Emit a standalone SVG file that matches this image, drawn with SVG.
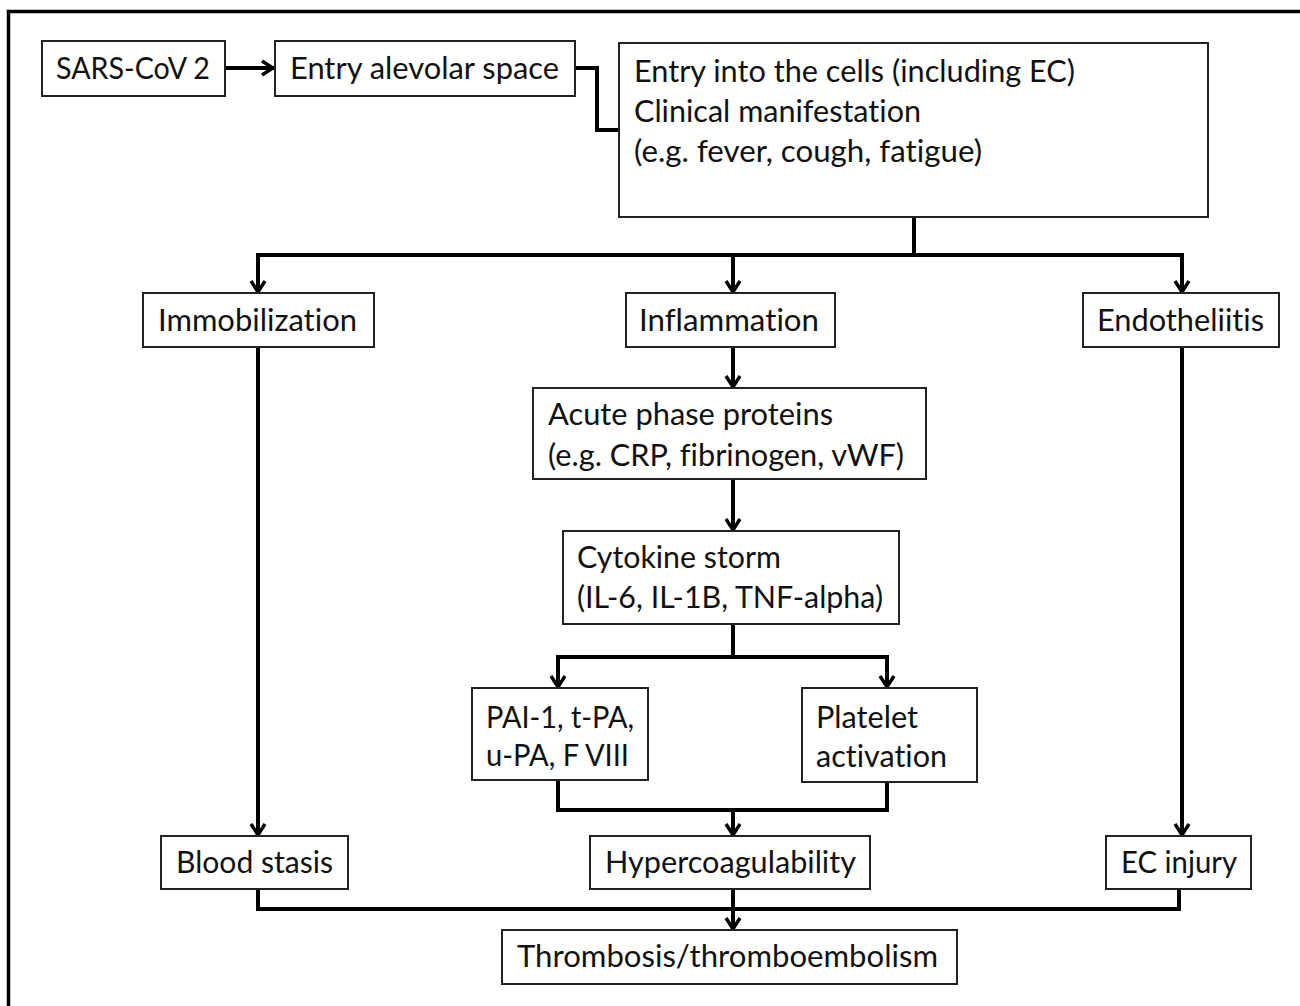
<svg xmlns="http://www.w3.org/2000/svg" width="1300" height="1006" viewBox="0 0 1300 1006">
<style>
.box{fill:#fff;stroke:#222;stroke-width:2}
.t{font-family:Lato,"Open Sans","Liberation Sans",sans-serif;font-size:31px;fill:#111;font-variant-ligatures:none;font-feature-settings:"liga" 0,"dlig" 0}
.c{fill:none;stroke:#000;stroke-width:4;stroke-linejoin:miter}
.a{fill:none;stroke:#000;stroke-width:4;marker-end:url(#arr)}
</style>
<defs>
<marker id="arr" viewBox="0 0 16 18" refX="14" refY="9" markerWidth="16" markerHeight="18" markerUnits="userSpaceOnUse" orient="auto">
<path d="M2,2 L13,9 L2,16" fill="none" stroke="#000" stroke-width="3.4"/>
</marker>
</defs>
<rect width="1300" height="1006" fill="#fff"/>
<path d="M8.5,1006 V11.5 H1300" fill="none" stroke="#000" stroke-width="3.5"/>

<g id="connectors">
<line class="a" x1="226" y1="68" x2="274" y2="68"/>
<path class="c" d="M575,68 H597 V130 H619"/>
<path class="c" d="M914,217 V255"/>
<path class="c" d="M258,291 V255 H1182 V291"/>
<line class="a" x1="258" y1="270" x2="258" y2="293"/>
<line class="a" x1="733" y1="255" x2="733" y2="293"/>
<line class="a" x1="1182" y1="270" x2="1182" y2="293"/>
<line class="a" x1="258" y1="347" x2="258" y2="836"/>
<line class="a" x1="1182" y1="347" x2="1182" y2="836"/>
<line class="a" x1="733" y1="347" x2="733" y2="388"/>
<line class="a" x1="733" y1="479" x2="733" y2="531"/>
<path class="c" d="M733,624 V657"/>
<path class="c" d="M558,686 V657 H887 V686"/>
<line class="a" x1="558" y1="670" x2="558" y2="688"/>
<line class="a" x1="887" y1="670" x2="887" y2="688"/>
<path class="c" d="M558,780 V810 H887 V782"/>
<line class="a" x1="733" y1="810" x2="733" y2="836"/>
<path class="c" d="M258,889 V909 H1179 V889"/>
<line class="a" x1="733" y1="889" x2="733" y2="930"/>
</g>

<g id="sars"><rect class="box" x="42" y="41" width="183" height="55"/><text class="t" x="56" y="79" textLength="154" lengthAdjust="spacingAndGlyphs">SARS-CoV 2</text></g>
<g id="alveolar"><rect class="box" x="275" y="41" width="300" height="55"/><text class="t" x="290" y="79" textLength="269" lengthAdjust="spacingAndGlyphs">Entry alevolar space</text></g>
<g id="entry-cells"><rect class="box" x="619" y="43" width="589" height="174"/>
<text class="t" x="634" y="82" textLength="441" lengthAdjust="spacingAndGlyphs">Entry into the cells (including EC)</text>
<text class="t" x="634" y="122" textLength="287" lengthAdjust="spacingAndGlyphs">Clinical manifestation</text>
<text class="t" x="634" y="162" textLength="348" lengthAdjust="spacingAndGlyphs">(e.g. fever, cough, fatigue)</text></g>
<g id="immobilization"><rect class="box" x="143" y="293" width="231" height="54"/><text class="t" x="158" y="331" textLength="199" lengthAdjust="spacingAndGlyphs">Immobilization</text></g>
<g id="inflammation"><rect class="box" x="626" y="293" width="209" height="54"/><text class="t" x="639" y="331" textLength="180" lengthAdjust="spacingAndGlyphs">Inflammation</text></g>
<g id="endotheliitis"><rect class="box" x="1083" y="293" width="196" height="54"/><text class="t" x="1097" y="331" textLength="167" lengthAdjust="spacingAndGlyphs">Endotheliitis</text></g>
<g id="acute-phase"><rect class="box" x="533" y="388" width="393" height="91"/>
<text class="t" x="548" y="425" textLength="285" lengthAdjust="spacingAndGlyphs">Acute phase proteins</text>
<text class="t" x="548" y="466" textLength="356" lengthAdjust="spacingAndGlyphs">(e.g. CRP, fibrinogen, vWF)</text></g>
<g id="cytokine"><rect class="box" x="563" y="531" width="336" height="93"/>
<text class="t" x="577" y="568" textLength="204" lengthAdjust="spacingAndGlyphs">Cytokine storm</text>
<text class="t" x="577" y="608" textLength="306" lengthAdjust="spacingAndGlyphs">(IL-6, IL-1B, TNF-alpha)</text></g>
<g id="pai"><rect class="box" x="472" y="688" width="176" height="92"/>
<text class="t" x="486" y="728" textLength="148" lengthAdjust="spacingAndGlyphs">PAI-1, t-PA,</text>
<text class="t" x="486" y="766" textLength="143" lengthAdjust="spacingAndGlyphs">u-PA, F VIII</text></g>
<g id="platelet"><rect class="box" x="802" y="688" width="175" height="94"/>
<text class="t" x="816" y="728" textLength="102" lengthAdjust="spacingAndGlyphs">Platelet</text>
<text class="t" x="816" y="767" textLength="131" lengthAdjust="spacingAndGlyphs">activation</text></g>
<g id="blood-stasis"><rect class="box" x="161" y="836" width="187" height="53"/><text class="t" x="176" y="873" textLength="157" lengthAdjust="spacingAndGlyphs">Blood stasis</text></g>
<g id="hypercoag"><rect class="box" x="590" y="836" width="280" height="53"/><text class="t" x="605" y="873" textLength="251" lengthAdjust="spacingAndGlyphs">Hypercoagulability</text></g>
<g id="ec-injury"><rect class="box" x="1106" y="836" width="145" height="53"/><text class="t" x="1121" y="873" textLength="116" lengthAdjust="spacingAndGlyphs">EC injury</text></g>
<g id="thrombosis"><rect class="box" x="502" y="930" width="455" height="54"/><text class="t" x="517" y="967" textLength="421" lengthAdjust="spacingAndGlyphs">Thrombosis/thromboembolism</text></g>
</svg>
